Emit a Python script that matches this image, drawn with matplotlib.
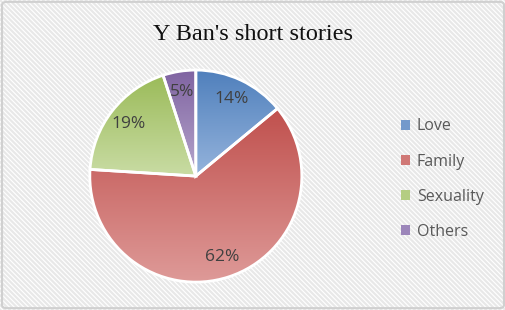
import numpy as np
import matplotlib
matplotlib.use("Agg")
import matplotlib.pyplot as plt
from matplotlib.colors import LinearSegmentedColormap
from matplotlib.patches import Rectangle, FancyBboxPatch

title = "Y Ban's short stories"
labels = ["Love", "Family", "Sexuality", "Others"]
values = [14, 62, 19, 5]
top_colors = ["#4f7fbc", "#c0504d", "#9bbb59", "#7f63a1"]
bottom_colors = ["#95b4dc", "#de9a98", "#c9dca4", "#b6a6cc"]
mid_colors = ["#7399cb", "#d07876", "#b4cd82", "#9c86ba"]

plt.rcParams['hatch.linewidth'] = 1.6
plt.rcParams['hatch.color'] = "#e8e8e8"

fig = plt.figure(figsize=(5.06, 3.10), dpi=100)
fig.patch.set_facecolor("white")

# striped background + border
bg = Rectangle((0, 0), 1, 1, transform=fig.transFigure, facecolor="white",
               edgecolor="#e8e8e8", hatch="\\" * 7, linewidth=0, zorder=-2)
fig.patches.append(bg)
border = FancyBboxPatch((0.004, 0.006), 0.992, 0.988, boxstyle="round,pad=0,rounding_size=0.01",
                        transform=fig.transFigure, facecolor="none",
                        edgecolor="#d0d0d0", linewidth=1.5, zorder=-1)
fig.patches.append(border)

fig.text(0.5, 0.888, title, ha="center", va="center", fontsize=17.5,
         family="Liberation Serif", color="#111111")

ax = fig.add_axes([0.387 - 0.2095, 0.432 - 0.342, 0.419, 0.684])
wedges, texts, autotexts = ax.pie(values, startangle=90, counterclock=False,
                                  colors=mid_colors, autopct="%1.0f%%", pctdistance=0.8,
                                  wedgeprops=dict(edgecolor="white", linewidth=2),
                                  textprops=dict(fontsize=12.5, color="#404040",
                                                 family="Open Sans"))

for w, c0, c1 in zip(wedges, top_colors, bottom_colors):
    ext = w.get_path().get_extents()
    cmap = LinearSegmentedColormap.from_list("g", [c1, c0])
    grad = np.linspace(0, 1, 256).reshape(-1, 1)
    im = ax.imshow(grad, cmap=cmap, origin="lower", aspect="auto",
                   extent=(ext.x0, ext.x1, ext.y0, ext.y1), zorder=1)
    im.set_clip_path(w)
    w.set_facecolor("none")
    w.set_zorder(2)
for t in autotexts:
    t.set_zorder(3)
ax.set_xlim(-1.0, 1.0)
ax.set_ylim(-1.0, 1.0)
ax.set_aspect("equal")
ax.axis("off")

handles = [Rectangle((0, 0), 1, 1, facecolor=c) for c in mid_colors]
leg = fig.legend(handles, labels, loc="center left", bbox_to_anchor=(0.765, 0.422),
                 frameon=False, handlelength=0.55, handleheight=0.55, handletextpad=0.4,
                 labelspacing=1.2, prop=dict(family="Open Sans", size=11.5))
for t in leg.get_texts():
    t.set_color("#595959")

fig.savefig("out.png", dpi=100)
